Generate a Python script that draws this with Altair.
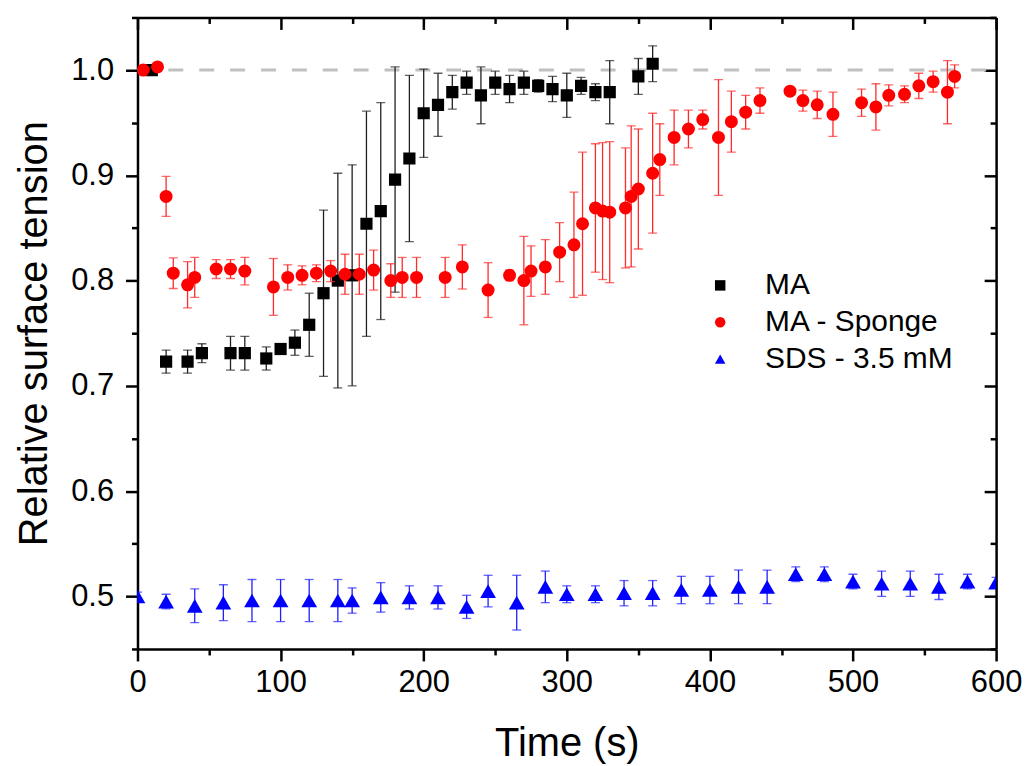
import altair as alt
import pandas as pd

# ---------------- data ----------------
ma_t = [10, 20, 35, 45, 65, 75, 90, 100, 110, 120, 130, 140, 150, 160, 170, 180, 190, 200,
        210, 220, 230, 240, 250, 260, 270, 280, 290, 300, 310, 320, 330, 350, 360]
ma_v = [1.000, 0.723, 0.723, 0.731, 0.731, 0.731, 0.726, 0.735, 0.741, 0.758, 0.788, 0.800,
        0.805, 0.854, 0.866, 0.896, 0.916, 0.959, 0.967, 0.979, 0.988, 0.976, 0.988, 0.982,
        0.988, 0.985, 0.982, 0.976, 0.985, 0.979, 0.979, 0.994, 1.006]
ma_e = [0.004, 0.011, 0.011, 0.009, 0.016, 0.016, 0.011, 0.004, 0.012, 0.030, 0.079, 0.102,
        0.105, 0.107, 0.103, 0.107, 0.079, 0.042, 0.030, 0.016, 0.011, 0.027, 0.011, 0.013,
        0.011, 0.006, 0.012, 0.021, 0.008, 0.008, 0.030, 0.017, 0.017]

sp_t = [4, 14, 20, 25, 35, 40, 55, 65, 75, 95, 105, 115, 125, 135, 145, 155, 165, 177, 185, 195,
        215, 227, 245, 260, 270, 275, 285, 295, 305, 311, 320, 325, 330, 341, 345, 350, 360, 365,
        375, 385, 395, 406, 415, 425, 435, 456, 465, 475, 486, 506, 516, 525, 536, 546, 556, 566, 571]
sp_v = [1.000, 1.003, 0.880, 0.807, 0.796, 0.803, 0.811, 0.811, 0.809, 0.794, 0.803, 0.805,
        0.807, 0.809, 0.806, 0.806, 0.810, 0.800, 0.803, 0.803, 0.803, 0.813, 0.791, 0.805,
        0.800, 0.809, 0.813, 0.827, 0.834, 0.854, 0.869, 0.866, 0.865, 0.869, 0.880, 0.887,
        0.902, 0.915, 0.936, 0.944, 0.953, 0.936, 0.951, 0.960, 0.971, 0.980, 0.971, 0.967,
        0.958, 0.969, 0.965, 0.976, 0.977, 0.985, 0.989, 0.979, 0.994]
sp_e = [0.003, 0.003, 0.019, 0.0145, 0.022, 0.019, 0.009, 0.009, 0.013, 0.027, 0.012, 0.009,
        0.008, 0.010, 0.019, 0.019, 0.019, 0.016, 0.019, 0.019, 0.019, 0.021, 0.026, 0.005,
        0.042, 0.024, 0.026, 0.028, 0.050, 0.068, 0.061, 0.065, 0.067, 0.057, 0.067, 0.057,
        0.057, 0.034, 0.026, 0.018, 0.009, 0.055, 0.029, 0.016, 0.012, 0.003, 0.010, 0.013,
        0.021, 0.013, 0.022, 0.010, 0.008, 0.012, 0.010, 0.030, 0.011]

sds_t = [0, 20, 40, 60, 80, 100, 120, 140, 150, 170, 190, 210, 230, 245, 265, 285, 300, 320,
         340, 360, 380, 400, 420, 440, 460, 480, 500, 520, 540, 560, 580, 600]
sds_v = [0.500, 0.495, 0.491, 0.494, 0.496, 0.496, 0.496, 0.496, 0.496, 0.499, 0.499, 0.499,
         0.490, 0.505, 0.494, 0.509, 0.502, 0.502, 0.503, 0.503, 0.506, 0.506, 0.509, 0.509,
         0.521, 0.521, 0.514, 0.512, 0.512, 0.509, 0.514, 0.513]
sds_e = [0.004, 0.007, 0.016, 0.017, 0.020, 0.020, 0.020, 0.020, 0.012, 0.014, 0.011, 0.011,
         0.011, 0.015, 0.026, 0.015, 0.008, 0.008, 0.012, 0.012, 0.013, 0.013, 0.016, 0.016,
         0.007, 0.007, 0.007, 0.012, 0.012, 0.012, 0.007, 0.005]

series_names = ["MA", "MA - Sponge", "SDS - 3.5 mM"]
point_colors = ["#000000", "#ff0000", "#0000ff"]
bar_colors = ["#202020", "#ff2a2a", "#2020ff"]
point_shapes = ["square", "circle", "triangle-up"]
point_sizes = [150, 170, 250]

x_ticks = [0, 50, 100, 150, 200, 250, 300, 350, 400, 450, 500, 550, 600]
y_ticks = [0.45, 0.5, 0.55, 0.6, 0.65, 0.7, 0.75, 0.8, 0.85, 0.9, 0.95, 1.0, 1.05]
ref_level = [1.0]
x_domain = [0, 600]
y_domain = [0.45, 1.05]

W, H = 862, 634
FONT = "Liberation Sans"

# ---------------- scales & axes ----------------
x_scale = alt.Scale(domain=x_domain, nice=False, zero=False)
y_scale = alt.Scale(domain=y_domain, nice=False, zero=False)

x_major = "datum.value % 100 === 0"
y_major = "abs(datum.value * 10 - round(datum.value * 10)) < 0.001"

x_axis = alt.Axis(orient="bottom", values=x_ticks, title="Time (s)", labelFlush=False,
                  labelExpr=f"{x_major} ? datum.label : ''",
                  tickSize={"condition": {"test": x_major, "value": 12}, "value": 6},
                  labelPadding=7, titlePadding=26)
y_axis = alt.Axis(orient="left", values=y_ticks, title="Relative surface tension", format=".1f",
                  labelExpr=f"{y_major} ? datum.label : ''", labelFlush=False,
                  tickSize={"condition": {"test": y_major, "value": 12}, "value": 6},
                  labelPadding=12, titlePadding=16)
# mirrored axes (top / right) with ticks pointing inward
x_axis_top = alt.Axis(orient="bottom", offset=-H, values=x_ticks, labels=False, title=None,
                      tickSize={"condition": {"test": x_major, "value": 12}, "value": 6})
y_axis_right = alt.Axis(orient="left", offset=-W, values=y_ticks, labels=False, title=None,
                        tickSize={"condition": {"test": y_major, "value": 12}, "value": 6})

color_scale = alt.Scale(domain=series_names, range=point_colors)
shape_scale = alt.Scale(domain=series_names, range=point_shapes)

ref_df = pd.DataFrame({"t0": [x_domain[0]], "t1": [x_domain[1]], "v": ref_level})
ref = alt.Chart(ref_df).mark_rule(color="#c0c0c0", strokeWidth=3, strokeDash=[15, 16]).encode(
    x=alt.X("t0:Q", scale=x_scale, axis=x_axis),
    x2="t1:Q",
    y=alt.Y("v:Q", scale=y_scale, axis=y_axis),
)

all_data = [(ma_t, ma_v, ma_e), (sp_t, sp_v, sp_e), (sds_t, sds_v, sds_e)]

layers = [ref]
for i, (tt, vv, ee) in enumerate(all_data):
    df = pd.DataFrame({"t": tt, "v": vv, "e": ee, "series": series_names[i]})
    base = alt.Chart(df).transform_calculate(lo="datum.v - datum.e", hi="datum.v + datum.e")
    xa = x_axis_top if i == 2 else None
    ya = y_axis_right if i == 2 else None
    rule = base.mark_rule(color=bar_colors[i], strokeWidth=1.3, clip=True).encode(
        x=alt.X("t:Q", scale=x_scale, axis=None),
        y=alt.Y("lo:Q", scale=y_scale, axis=None),
        y2="hi:Q",
    )
    cap_lo = base.mark_tick(color=bar_colors[i], orient="horizontal", size=9, thickness=1.3,
                            clip=True).encode(
        x=alt.X("t:Q", scale=x_scale, axis=None),
        y=alt.Y("lo:Q", scale=y_scale, axis=None),
    )
    cap_hi = base.mark_tick(color=bar_colors[i], orient="horizontal", size=9, thickness=1.3,
                            clip=True).encode(
        x=alt.X("t:Q", scale=x_scale, axis=None),
        y=alt.Y("hi:Q", scale=y_scale, axis=None),
    )
    pts = base.mark_point(filled=True, opacity=1, size=point_sizes[i], strokeWidth=0,
                          clip=True).encode(
        x=alt.X("t:Q", scale=x_scale, axis=xa),
        y=alt.Y("v:Q", scale=y_scale, axis=ya),
        color=alt.Color("series:N", scale=color_scale, legend=alt.Legend(title=None)),
        shape=alt.Shape("series:N", scale=shape_scale, legend=alt.Legend(title=None)),
    )
    layers += [rule, cap_lo, cap_hi, pts]

chart = alt.layer(*layers).resolve_axis(x="independent", y="independent").properties(
    width=W, height=H,
    padding={"left": 6, "top": 6, "right": 0, "bottom": 0},
).configure_view(stroke=None).configure_axis(
    grid=False,
    domainColor="#000000", domainWidth=2.5,
    tickColor="#000000", tickWidth=2.5,
    labelFont=FONT, labelFontSize=31, labelColor="#000000",
    titleFont=FONT, titleFontSize=40, titleFontWeight="normal", titleColor="#000000",
).configure_legend(
    orient="none", legendX=570, legendY=254,
    labelFont=FONT, labelFontSize=30, labelColor="#000000", labelLimit=0,
    symbolSize=110, symbolStrokeWidth=0, labelOffset=30, rowPadding=7, padding=0,
)

chart.save("out.html", embed_options={"renderer": "svg", "actions": False})
